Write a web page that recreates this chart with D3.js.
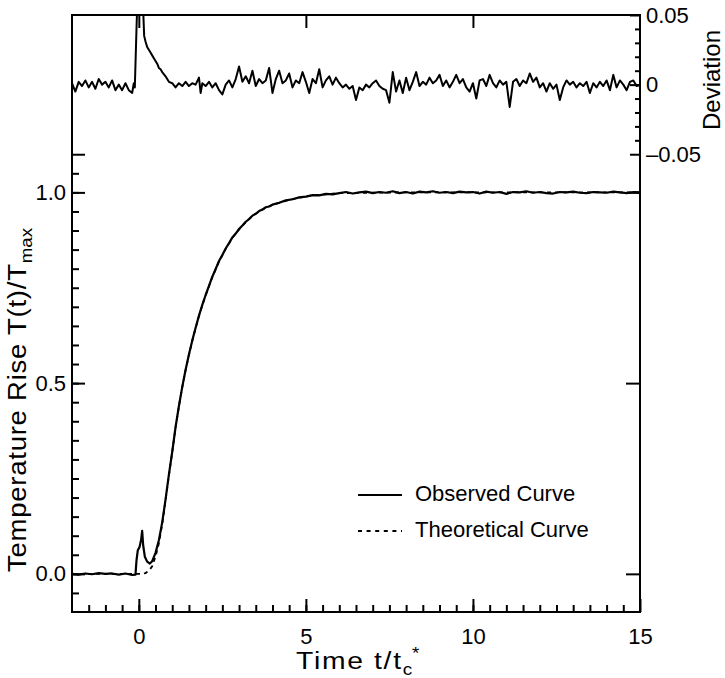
<!DOCTYPE html>
<html>
<head>
<meta charset="utf-8">
<script src="https://cdn.jsdelivr.net/npm/d3@7"></script>
<style>
body { margin: 0; background: #fff; }
text { font-family: "Liberation Sans", Arial, Helvetica, sans-serif; fill: #000; }
</style>
</head>
<body>
<div id="chart"></div>
<script>
// values: [t/tc*, T(t)/Tmax]
const observed = [
    [-2.0, 0.000], [-1.8, -0.002], [-1.6, 0.001], [-1.4, -0.001], [-1.2, 0.002], [-1.0, 0.000],
    [-0.8, 0.001], [-0.6, -0.002], [-0.4, 0.001], [-0.2, -0.003], [-0.1, -0.002],
    [-0.07, 0.035], [-0.03, 0.062], [0.02, 0.070], [0.07, 0.090], [0.1, 0.113], [0.13, 0.075],
    [0.18, 0.045], [0.25, 0.032], [0.33, 0.027], [0.4, 0.033], [0.5, 0.055], [0.6, 0.088],
    [0.7, 0.135], [0.8, 0.195], [0.9, 0.260], [1.0, 0.320], [1.1, 0.385], [1.2, 0.440],
    [1.3, 0.490], [1.4, 0.535], [1.5, 0.575], [1.6, 0.612], [1.7, 0.645], [1.8, 0.677],
    [1.9, 0.705], [2.0, 0.731], [2.1, 0.755], [2.2, 0.779], [2.3, 0.799], [2.4, 0.820],
    [2.5, 0.836], [2.6, 0.853], [2.7, 0.867], [2.8, 0.882], [2.9, 0.892], [3.0, 0.904],
    [3.1, 0.913], [3.2, 0.923], [3.3, 0.930], [3.4, 0.939], [3.5, 0.944], [3.6, 0.951],
    [3.7, 0.955], [3.8, 0.961], [3.9, 0.963], [4.0, 0.968], [4.2, 0.973], [4.4, 0.979],
    [4.6, 0.982], [4.8, 0.987], [5.0, 0.989], [5.2, 0.993], [5.4, 0.992], [5.6, 0.996],
    [5.8, 0.995], [6.0, 0.998], [6.2, 1.001], [6.4, 0.997], [6.6, 1.000], [6.8, 1.002],
    [7.0, 0.998], [7.2, 1.001], [7.4, 0.999], [7.6, 1.003], [7.8, 0.998], [8.0, 1.001],
    [8.2, 0.997], [8.4, 1.002], [8.6, 1.000], [8.8, 1.003], [9.0, 0.999], [9.2, 1.001],
    [9.4, 0.998], [9.6, 1.002], [9.8, 1.000], [10.0, 1.001], [10.2, 0.997], [10.4, 1.002],
    [10.6, 0.999], [10.8, 1.001], [11.0, 0.996], [11.2, 1.001], [11.4, 1.000], [11.6, 1.003],
    [11.8, 0.999], [12.0, 1.001], [12.2, 0.998], [12.4, 0.997], [12.6, 1.001], [12.8, 1.000],
    [13.0, 1.002], [13.2, 0.999], [13.4, 0.998], [13.6, 1.001], [13.8, 1.000], [14.0, 0.999],
    [14.2, 1.002], [14.4, 1.000], [14.6, 0.998], [14.8, 1.001], [15.0, 1.000]
];

const theoretical = [
    [-2.0, 0], [0.1, 0], [0.2, 0.002], [0.3, 0.008], [0.4, 0.020], [0.5, 0.045], [0.6, 0.080],
    [0.7, 0.130], [0.8, 0.192], [0.9, 0.258], [1.0, 0.319], [1.1, 0.384], [1.2, 0.439],
    [1.3, 0.489], [1.4, 0.534], [1.5, 0.574], [1.6, 0.611], [1.7, 0.644], [1.8, 0.676],
    [1.9, 0.704], [2.0, 0.730], [2.1, 0.754], [2.2, 0.778], [2.3, 0.798], [2.4, 0.819],
    [2.5, 0.835], [2.6, 0.852], [2.7, 0.866], [2.8, 0.881], [2.9, 0.892], [3.0, 0.903],
    [3.2, 0.922], [3.4, 0.938], [3.6, 0.950], [3.8, 0.960], [4.0, 0.967], [4.4, 0.978],
    [4.8, 0.986], [5.2, 0.992], [5.6, 0.995], [6.0, 0.998], [7.0, 0.999], [8.0, 1.000],
    [15.0, 1.000]
];

// deviation (observed - theoretical), right axis
const deviation = [
    [-2.0, 0.001], [-1.9, -0.005], [-1.8, 0.002], [-1.7, -0.001], [-1.6, 0.003], [-1.5, -0.002],
    [-1.4, 0.002], [-1.3, -0.003], [-1.2, 0.004], [-1.1, 0.000], [-1.0, 0.002], [-0.9, -0.002],
    [-0.8, 0.003], [-0.7, -0.004], [-0.6, 0.000], [-0.5, -0.004], [-0.4, 0.001], [-0.3, -0.004],
    [-0.2, -0.006], [-0.15, 0.001], [-0.12, -0.002], [-0.07, 0.040], [-0.03, 0.070], [0.02, 0.085],
    [0.08, 0.105], [0.12, 0.060], [0.16, 0.035], [0.2, 0.031], [0.25, 0.027], [0.3, 0.025],
    [0.35, 0.023], [0.4, 0.021], [0.45, 0.019], [0.5, 0.017], [0.55, 0.015], [0.6, 0.012],
    [0.65, 0.011], [0.7, 0.009], [0.8, 0.006], [0.9, 0.002], [1.0, 0.001], [1.1, -0.002],
    [1.2, 0.001], [1.3, -0.001], [1.4, 0.002], [1.5, -0.001], [1.6, 0.001], [1.7, 0.000],
    [1.8, 0.005], [1.85, -0.006], [1.9, 0.001], [2.0, -0.001], [2.1, 0.002], [2.2, -0.002],
    [2.3, 0.001], [2.4, -0.004], [2.5, -0.007], [2.6, 0.000], [2.7, 0.003], [2.8, -0.002],
    [2.9, 0.004], [3.0, 0.013], [3.1, 0.002], [3.2, 0.006], [3.3, 0.001], [3.4, 0.010],
    [3.5, -0.001], [3.6, 0.004], [3.7, 0.001], [3.8, 0.003], [3.9, 0.012], [4.0, -0.006],
    [4.1, 0.004], [4.2, 0.010], [4.3, 0.001], [4.4, 0.003], [4.5, 0.008], [4.6, -0.002],
    [4.7, 0.003], [4.8, 0.001], [4.9, 0.009], [5.0, 0.002], [5.1, -0.006], [5.2, 0.004],
    [5.3, 0.001], [5.4, 0.011], [5.5, -0.002], [5.6, 0.003], [5.7, 0.006], [5.8, 0.000],
    [5.9, 0.005], [6.0, 0.001], [6.1, -0.002], [6.2, 0.000], [6.3, -0.003], [6.4, -0.001],
    [6.5, -0.011], [6.6, -0.002], [6.7, -0.004], [6.8, 0.000], [6.9, -0.002], [7.0, 0.001],
    [7.1, 0.003], [7.2, -0.001], [7.3, -0.003], [7.4, -0.004], [7.5, -0.013], [7.6, 0.009],
    [7.7, -0.005], [7.8, 0.003], [7.9, -0.006], [8.0, 0.005], [8.1, -0.004], [8.2, 0.002],
    [8.3, 0.009], [8.4, -0.001], [8.5, 0.002], [8.6, 0.000], [8.7, 0.005], [8.8, 0.001],
    [8.9, 0.003], [9.0, 0.007], [9.1, -0.001], [9.2, 0.003], [9.3, -0.002], [9.4, 0.002],
    [9.5, 0.007], [9.6, 0.001], [9.7, 0.004], [9.8, -0.002], [9.9, -0.005], [10.0, 0.001],
    [10.1, -0.010], [10.2, 0.003], [10.3, 0.004], [10.4, -0.001], [10.5, 0.007], [10.6, 0.001],
    [10.7, -0.002], [10.8, 0.003], [10.9, 0.000], [11.0, 0.002], [11.1, -0.016], [11.2, 0.002],
    [11.3, 0.004], [11.4, -0.001], [11.5, 0.003], [11.6, 0.001], [11.7, 0.008], [11.8, 0.002],
    [11.9, 0.005], [12.0, -0.002], [12.1, 0.001], [12.2, -0.005], [12.3, 0.001], [12.4, -0.003],
    [12.5, 0.000], [12.6, -0.011], [12.7, -0.002], [12.8, 0.003], [12.9, 0.000], [13.0, 0.002],
    [13.1, -0.002], [13.2, 0.001], [13.3, -0.001], [13.4, 0.002], [13.5, -0.006], [13.6, 0.001],
    [13.7, -0.002], [13.8, 0.002], [13.9, -0.001], [14.0, 0.003], [14.1, -0.004], [14.2, 0.007],
    [14.3, -0.002], [14.4, 0.003], [14.5, 0.000], [14.6, -0.004], [14.7, 0.002], [14.8, 0.003],
    [14.9, -0.001], [15.0, 0.000]
];

const xTicks = [0, 5, 10, 15];
const yTicks = [0, 0.5, 1.0];
const devTicks = [-0.05, 0, 0.05];

const width = 725;
const height = 678;
const plotLeft = 72, plotRight = 640, plotTop = 15, plotBottom = 612;

const svg = d3.select("#chart")
    .append("svg")
    .attr("width", width)
    .attr("height", height);

const x = d3.scaleLinear().domain([-2, 15]).range([plotLeft, plotRight]);
const y = d3.scaleLinear().domain([-0.1, 1.465]).range([plotBottom, plotTop]);
const yDev = d3.scaleLinear().domain([-0.05, 0.05]).range([y(1.1), plotTop]);

svg.append("defs").append("clipPath")
    .attr("id", "plot-clip")
    .append("rect")
    .attr("x", plotLeft)
    .attr("y", plotTop)
    .attr("width", plotRight - plotLeft)
    .attr("height", plotBottom - plotTop);

function styleAxis(g, size) {
    g.select(".domain").remove();
    g.selectAll("line").attr("stroke", "#000").attr("stroke-width", 2);
    g.attr("font-size", size).attr("font-family", "'Liberation Sans', Arial, sans-serif");
}

// bottom
svg.append("g")
    .attr("transform", `translate(0,${plotBottom})`)
    .call(d3.axisBottom(x).tickValues(d3.range(-1.5, 15, 0.5)).tickSize(-7).tickFormat(""))
    .call(g => styleAxis(g, 22));
svg.append("g")
    .attr("transform", `translate(0,${plotBottom})`)
    .call(d3.axisBottom(x).tickValues(xTicks).tickSize(-13).tickPadding(16).tickFormat(d3.format("d")))
    .call(g => styleAxis(g, 22));

// top
svg.append("g")
    .attr("transform", `translate(0,${plotTop})`)
    .call(d3.axisTop(x).tickValues([0, 5, 10]).tickSize(-13).tickFormat(""))
    .call(g => styleAxis(g, 22));

// left
svg.append("g")
    .attr("transform", `translate(${plotLeft},0)`)
    .call(d3.axisLeft(y).tickValues(d3.range(-0.05, 1.06, 0.05)).tickSize(-7).tickFormat(""))
    .call(g => styleAxis(g, 22));
svg.append("g")
    .attr("transform", `translate(${plotLeft},0)`)
    .call(d3.axisLeft(y).tickValues(yTicks.concat([1.1])).tickSize(-13).tickPadding(6)
        .tickFormat(d => yTicks.includes(d) ? d3.format(".1f")(d) : ""))
    .call(g => styleAxis(g, 22));

// right: main-scale ticks and deviation scale
svg.append("g")
    .attr("transform", `translate(${plotRight},0)`)
    .call(d3.axisRight(y).tickValues(yTicks).tickSize(-14).tickFormat(""))
    .call(g => styleAxis(g, 22));
svg.append("g")
    .attr("transform", `translate(${plotRight},0)`)
    .call(d3.axisRight(yDev).tickValues(d3.range(-0.04, 0.045, 0.01)).tickSize(-5).tickFormat(""))
    .call(g => styleAxis(g, 22));
svg.append("g")
    .attr("transform", `translate(${plotRight},0)`)
    .call(d3.axisRight(yDev).tickValues(devTicks).tickSize(-10).tickPadding(6)
        .tickFormat(d => d === 0 ? "0" : d3.format(".2f")(d).replace("−", "–")))
    .call(g => styleAxis(g, 22));

// frame
svg.append("rect")
    .attr("x", plotLeft)
    .attr("y", plotTop)
    .attr("width", plotRight - plotLeft)
    .attr("height", plotBottom - plotTop)
    .attr("fill", "none")
    .attr("stroke", "#000")
    .attr("stroke-width", 2);

const line = d3.line().x(d => x(d[0])).y(d => y(d[1]));
const devLine = d3.line().x(d => x(d[0])).y(d => yDev(d[1]));

const plot = svg.append("g").attr("clip-path", "url(#plot-clip)");

plot.append("path")
    .datum(theoretical)
    .attr("d", line)
    .attr("fill", "none")
    .attr("stroke", "#000")
    .attr("stroke-width", 1.8)
    .attr("stroke-dasharray", "4,4");

plot.append("path")
    .datum(observed)
    .attr("d", line)
    .attr("fill", "none")
    .attr("stroke", "#000")
    .attr("stroke-width", 2.2)
    .attr("stroke-linejoin", "round");

plot.append("path")
    .datum(deviation)
    .attr("d", devLine)
    .attr("fill", "none")
    .attr("stroke", "#000")
    .attr("stroke-width", 2)
    .attr("stroke-linejoin", "round");

// legend
const legend = svg.append("g");
const legendItems = [
    { label: "Observed Curve", dash: null, y: 501 },
    { label: "Theoretical Curve", dash: "4,4.6", y: 537 }
];
legendItems.forEach(item => {
    legend.append("line")
        .attr("x1", 358)
        .attr("x2", 402)
        .attr("y1", item.y - 6)
        .attr("y2", item.y - 6)
        .attr("stroke", "#000")
        .attr("stroke-width", 2)
        .attr("stroke-dasharray", item.dash);
    legend.append("text")
        .attr("x", 415)
        .attr("y", item.y)
        .attr("font-size", 22)
        .text(item.label);
});

// axis titles (the original lettering is wider than Liberation Sans, so stretch it a little)
const xTitle = svg.append("text")
    .attr("transform", "translate(296,669) scale(1.18,1)")
    .attr("font-size", 24);
xTitle.append("tspan").attr("textLength", 89).attr("lengthAdjust", "spacing").text("Time t/t");
xTitle.append("tspan").attr("font-size", 16).attr("dy", 6).text("c");
xTitle.append("tspan").attr("font-size", 16).attr("dy", -16).text("*");

const yTitle = svg.append("text")
    .attr("transform", "translate(26,572) rotate(-90) scale(1.1,1)")
    .attr("font-size", 25);
yTitle.append("tspan").attr("textLength", 280).attr("lengthAdjust", "spacing").text("Temperature Rise T(t)/T");
yTitle.append("tspan").attr("font-size", 17).attr("dy", 6).text("max");

svg.append("text")
    .attr("transform", "translate(720,130) rotate(-90)")
    .attr("font-size", 24)
    .text("Deviation");
</script>
</body>
</html>
